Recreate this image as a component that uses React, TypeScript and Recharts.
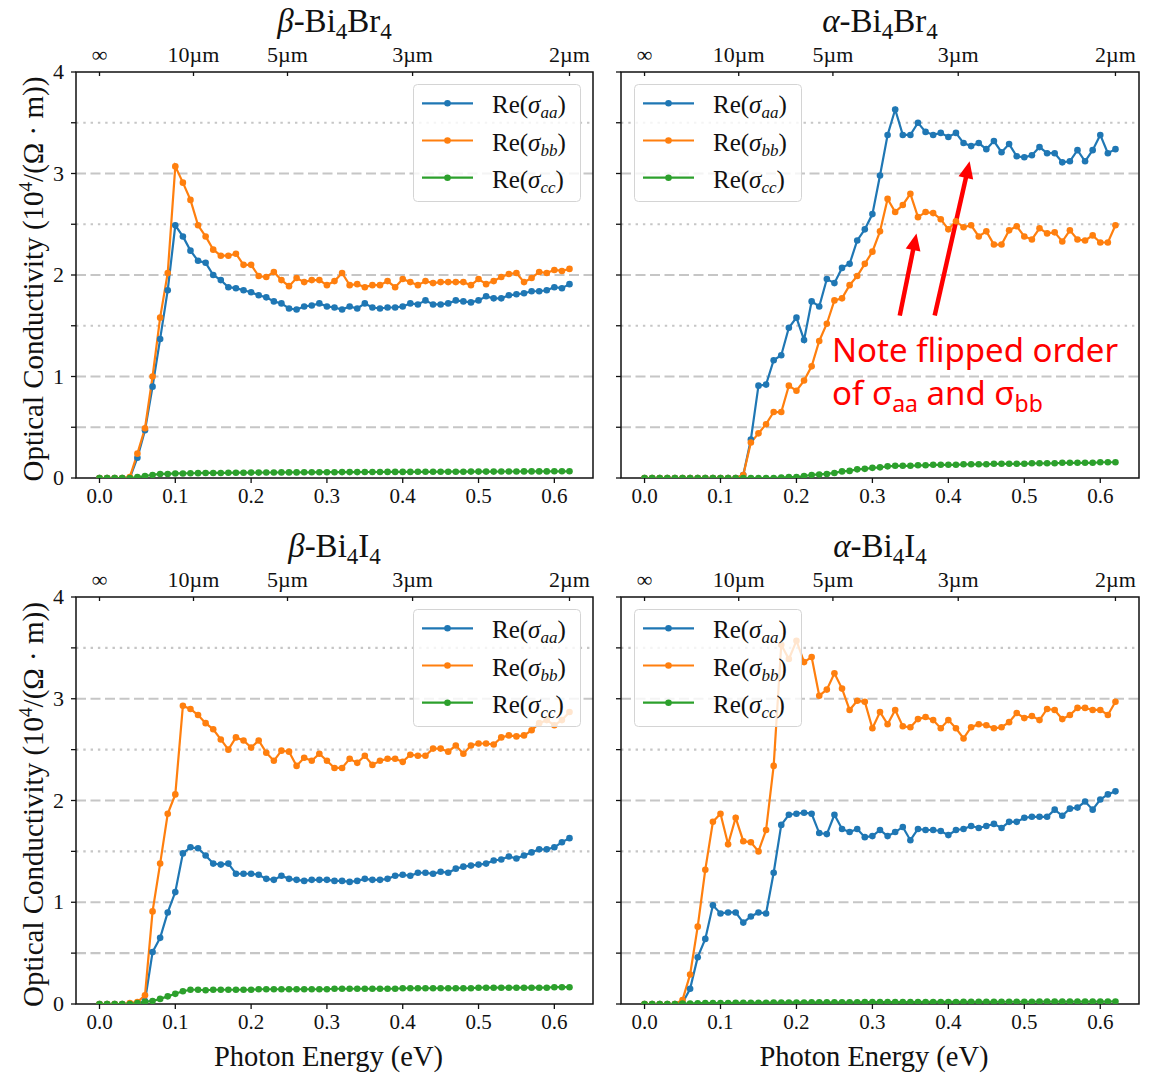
import React from 'react';
import { LineChart, Line, XAxis, YAxis, CartesianGrid, ReferenceLine, ReferenceArea, Legend } from 'recharts';

const SERIF = '"Liberation Serif", "DejaVu Serif", serif';
const SANS = '"Noto Sans", "Open Sans", sans-serif';

// ---------- shared axes ----------
const energies = [0.00,0.01,0.02,0.03,0.04,0.05,0.06,0.07,0.08,0.09,0.10,0.11,0.12,0.13,0.14,0.15,0.16,0.17,0.18,0.19,0.20,0.21,0.22,0.23,0.24,0.25,0.26,0.27,0.28,0.29,0.30,0.31,0.32,0.33,0.34,0.35,0.36,0.37,0.38,0.39,0.40,0.41,0.42,0.43,0.44,0.45,0.46,0.47,0.48,0.49,0.50,0.51,0.52,0.53,0.54,0.55,0.56,0.57,0.58,0.59,0.60,0.61,0.62];
const xDomain = [-0.031, 0.651];
const bottomTicks = [0, 0.1, 0.2, 0.3, 0.4, 0.5, 0.6];
const topTickEnergies = [0, 0.124, 0.248, 0.413, 0.62];
const topTickLabels = ['∞', '10µm', '5µm', '3µm', '2µm'];
const yTicks = [0, 0.5, 1, 1.5, 2, 2.5, 3, 3.5, 4];
const dashedLevels = [0.5, 1, 2, 3];
const dottedLevels = [1.5, 2.5, 3.5];
const seriesKeys = ['aa', 'bb', 'cc'];
const seriesColors = ['#1f77b4', '#ff7f0e', '#2ca02c'];

// ---------- β-Bi4Br4 ----------
const betaBrAA = [0,0,0,0,0, 0.20,0.47,0.90,1.37,1.85, 2.49,2.38,2.24,2.14,2.12, 2.00,1.95,1.88,1.87,1.85, 1.83,1.80,1.78,1.74,1.72, 1.67,1.66,1.69,1.70,1.72, 1.69,1.68,1.66,1.69,1.67, 1.72,1.68,1.67,1.68,1.68, 1.69,1.72,1.71,1.75,1.71, 1.71,1.72,1.75,1.74,1.73, 1.75,1.79,1.77,1.77,1.80, 1.81,1.82,1.84,1.84,1.85, 1.88,1.87,1.91];
const betaBrBB = [0,0,0,0,0.01, 0.24,0.49,1.00,1.58,2.02, 3.07,2.91,2.74,2.49,2.38, 2.25,2.19,2.19,2.21,2.10, 2.10,1.99,1.98,2.03,1.95, 1.89,1.97,1.93,1.95,1.95, 1.90,1.94,2.02,1.90,1.91, 1.88,1.90,1.90,1.94,1.88, 1.96,1.93,1.90,1.94,1.92, 1.93,1.93,1.93,1.93,1.90, 1.96,1.91,1.94,1.98,2.01, 2.02,1.93,1.97,2.03,2.02, 2.05,2.04,2.06];
const betaBrCC = [0,0,0,0,0, 0.01,0.02,0.03,0.04,0.04, 0.045,0.045,0.047,0.048,0.05, 0.05,0.05,0.051,0.052,0.052, 0.053,0.053,0.054,0.054,0.055, 0.055,0.055,0.056,0.056,0.057, 0.057,0.057,0.058,0.058,0.058, 0.059,0.059,0.059,0.06,0.06, 0.06,0.06,0.061,0.061,0.061, 0.062,0.062,0.062,0.062,0.063, 0.063,0.063,0.063,0.064,0.064, 0.064,0.065,0.065,0.065,0.065, 0.066,0.066,0.066];

// ---------- α-Bi4Br4 ----------
const alphaBrAA = [0,0,0,0,0, 0,0,0,0,0, 0,0,0,0.03,0.38, 0.91,0.92,1.16,1.21,1.48, 1.58,1.36,1.74,1.69,1.96, 1.92,2.07,2.11,2.34,2.45, 2.60,2.98,3.38,3.63,3.38, 3.38,3.50,3.41,3.38,3.40, 3.36,3.40,3.30,3.27,3.30, 3.24,3.32,3.21,3.29,3.17, 3.16,3.18,3.26,3.20,3.20, 3.11,3.12,3.23,3.12,3.23, 3.38,3.20,3.24];
const alphaBrBB = [0,0,0,0,0, 0,0,0,0,0, 0,0,0,0.03,0.35, 0.44,0.53,0.65,0.65,0.91, 0.86,0.96,1.10,1.35,1.52, 1.75,1.77,1.90,1.99,2.11, 2.23,2.43,2.75,2.62,2.69, 2.80,2.57,2.62,2.61,2.55, 2.45,2.53,2.47,2.49,2.38, 2.43,2.30,2.30,2.44,2.48, 2.38,2.35,2.46,2.41,2.42, 2.33,2.44,2.35,2.34,2.39, 2.32,2.32,2.49];
const alphaBrCC = [0,0,0,0,0, 0,0,0,0,0, 0,0,0,0,0, 0,0,0,0.005,0.01, 0.01,0.02,0.03,0.035,0.04, 0.05,0.065,0.07,0.085,0.09, 0.10,0.105,0.115,0.12,0.12, 0.12,0.125,0.125,0.13,0.13, 0.13,0.13,0.135,0.135,0.135, 0.135,0.14,0.14,0.14,0.14, 0.14,0.145,0.145,0.145,0.145, 0.15,0.15,0.15,0.15,0.15, 0.155,0.155,0.155];

// ---------- β-Bi4I4 ----------
const betaIAA = [0,0,0,0,0, 0,0.03,0.51,0.65,0.90, 1.10,1.48,1.54,1.53,1.46, 1.38,1.37,1.38,1.28,1.28, 1.28,1.27,1.23,1.22,1.26, 1.23,1.22,1.21,1.22,1.22, 1.22,1.21,1.21,1.20,1.21, 1.23,1.22,1.22,1.23,1.26, 1.27,1.26,1.29,1.29,1.28, 1.30,1.29,1.33,1.35,1.36, 1.37,1.38,1.41,1.42,1.45, 1.43,1.46,1.49,1.52,1.52, 1.54,1.59,1.63];
const betaIBB = [0,0,0,0,0.01, 0.02,0.085,0.91,1.38,1.87, 2.06,2.93,2.90,2.84,2.76, 2.70,2.60,2.50,2.62,2.59, 2.52,2.59,2.47,2.39,2.49, 2.48,2.34,2.42,2.39,2.46, 2.39,2.32,2.32,2.41,2.37, 2.44,2.35,2.39,2.41,2.41, 2.38,2.45,2.44,2.44,2.51, 2.51,2.48,2.54,2.46,2.54, 2.56,2.56,2.55,2.62,2.64, 2.63,2.64,2.69,2.76,2.79, 2.74,2.79,2.87];
const betaICC = [0,0,0,0,0, 0.01,0.02,0.03,0.05,0.075, 0.10,0.125,0.14,0.14,0.135, 0.14,0.14,0.14,0.14,0.14, 0.14,0.145,0.145,0.145,0.145, 0.145,0.145,0.145,0.145,0.145, 0.145,0.15,0.15,0.15,0.15, 0.15,0.15,0.15,0.15,0.15, 0.155,0.155,0.155,0.155,0.155, 0.155,0.155,0.155,0.155,0.155, 0.16,0.16,0.16,0.16,0.16, 0.16,0.16,0.16,0.16,0.16, 0.165,0.165,0.165];

// ---------- α-Bi4I4 ----------
const alphaIAA = [0,0,0,0,0, 0.01,0.15,0.46,0.64,0.97, 0.89,0.90,0.90,0.80,0.86, 0.90,0.89,1.29,1.76,1.86, 1.87,1.88,1.87,1.68,1.67, 1.86,1.72,1.69,1.72,1.64, 1.65,1.71,1.65,1.69,1.74, 1.61,1.72,1.71,1.71,1.70, 1.66,1.71,1.72,1.75,1.73, 1.75,1.77,1.73,1.79,1.79, 1.83,1.84,1.84,1.84,1.91, 1.85,1.92,1.93,1.99,1.91, 2.01,2.06,2.09];
const alphaIBB = [0,0,0,0,0, 0.04,0.29,0.76,1.32,1.79, 1.87,1.57,1.83,1.60,1.59, 1.50,1.71,2.34,3.53,3.39, 3.57,3.36,3.41,3.03,3.09, 3.25,3.10,2.89,2.98,2.97, 2.71,2.87,2.75,2.89,2.73, 2.72,2.80,2.82,2.79,2.71, 2.79,2.71,2.61,2.72,2.75, 2.74,2.71,2.72,2.77,2.86, 2.81,2.83,2.79,2.90,2.89, 2.80,2.84,2.91,2.91,2.89, 2.89,2.84,2.97];
const alphaICC = [0,0,0,0,0, 0.005,0.005,0.008,0.01,0.01, 0.01,0.01,0.012,0.012,0.012, 0.013,0.013,0.014,0.014,0.015, 0.015,0.015,0.016,0.016,0.016, 0.017,0.017,0.017,0.017,0.018, 0.018,0.018,0.018,0.019,0.019, 0.019,0.019,0.02,0.02,0.02, 0.02,0.02,0.021,0.021,0.021, 0.021,0.021,0.022,0.022,0.022, 0.022,0.022,0.023,0.023,0.023, 0.023,0.023,0.024,0.024,0.024, 0.024,0.024,0.025];

// ---------- annotation arrows (α-Bi4Br4), data coordinates ----------
const arrowX1 = [0.336, 0.382];
const arrowY1 = [1.60, 1.60];
const arrowX2 = [0.358, 0.428];
const arrowY2 = [2.41, 3.12];

type PanelDef = {
  id: string; greek: string; halide: string;
  left: number; top: number; w: number; h: number;
  aa: number[]; bb: number[]; cc: number[];
  legendRight: boolean; yLabels: boolean; xLabel: boolean; arrows: boolean;
};

const panels: PanelDef[] = [
  { id: 'bBr', greek: 'β', halide: 'Br', left: 76, top: 72, w: 517, h: 406, aa: betaBrAA, bb: betaBrBB, cc: betaBrCC, legendRight: true, yLabels: true, xLabel: false, arrows: false },
  { id: 'aBr', greek: 'α', halide: 'Br', left: 621, top: 72, w: 518, h: 406, aa: alphaBrAA, bb: alphaBrBB, cc: alphaBrCC, legendRight: false, yLabels: false, xLabel: false, arrows: true },
  { id: 'bI', greek: 'β', halide: 'I', left: 76, top: 597, w: 517, h: 407, aa: betaIAA, bb: betaIBB, cc: betaICC, legendRight: true, yLabels: true, xLabel: true, arrows: false },
  { id: 'aI', greek: 'α', halide: 'I', left: 621, top: 597, w: 518, h: 407, aa: alphaIAA, bb: alphaIBB, cc: alphaICC, legendRight: false, yLabels: false, xLabel: true, arrows: false },
];

const TICK_FONT = 21;

const BottomTick = (props: any) => {
  const { x, y, payload } = props;
  return (
    <text x={x} y={y} dy={15} textAnchor="middle" fontFamily={SERIF} style={{ fontFamily: SERIF }} fontSize={TICK_FONT} fill="#111">
      {Number(payload.value).toFixed(1)}
    </text>
  );
};

const TopTick = (props: any) => {
  const { x, y, payload } = props;
  const idx = topTickEnergies.indexOf(payload.value);
  return (
    <text x={x} y={y} textAnchor="middle" fontFamily={SERIF} style={{ fontFamily: SERIF }} fontSize={TICK_FONT + 1} fill="#111">
      {idx >= 0 ? topTickLabels[idx] : ''}
    </text>
  );
};

const makeLeftTick = (show: boolean) => (props: any) => {
  const { x, y, payload } = props;
  const v = Number(payload.value);
  return (
    <text x={x} y={y} dy={7} textAnchor="end" fontFamily={SERIF} style={{ fontFamily: SERIF }} fontSize={TICK_FONT + 1} fill="#111">
      {show && Number.isInteger(v) ? String(v) : ''}
    </text>
  );
};

const ArrowShape = (props: any) => {
  const { x1, y1, x2, y2 } = props;
  const dx = x2 - x1, dy = y2 - y1;
  const len = Math.hypot(dx, dy) || 1;
  const ux = dx / len, uy = dy / len;
  const hl = 17, hw = 7.5;
  const bx = x2 - ux * hl, by = y2 - uy * hl;
  const px = -uy, py = ux;
  return (
    <g>
      <line x1={x1} y1={y1} x2={bx + ux * 2} y2={by + uy * 2} stroke="#ff0000" strokeWidth={4.5} />
      <polygon points={`${x2},${y2} ${bx + px * hw},${by + py * hw} ${bx - px * hw},${by - py * hw}`} fill="#ff0000" />
    </g>
  );
};

const LegendContent = (props: any) => {
  const payload = props.payload || [];
  return (
    <svg width={168} height={118} style={{ display: 'block' }}>
      <rect x={0.5} y={0.5} width={167} height={117} rx={4} ry={4} fill="#ffffff" fillOpacity={0.8} stroke="#d4d4d4" strokeWidth={1} />
      {payload.map((p: any, i: number) => {
        const cy = 19.3 + i * 37.2;
        const sub = String(p.value);
        return (
          <g key={i}>
            <line x1={9} x2={60} y1={cy} y2={cy} stroke={p.color} strokeWidth={2.2} />
            <circle cx={34.5} cy={cy} r={3.3} fill={p.color} />
            <text x={79} y={cy + 10} fontFamily={SERIF} style={{ fontFamily: SERIF }} fontSize={25} fill="#111">
              Re(<tspan fontStyle="italic">σ</tspan>
              <tspan fontStyle="italic" fontSize={17} dy={5}>{sub}</tspan>
              <tspan dy={-5}>)</tspan>
            </text>
          </g>
        );
      })}
    </svg>
  );
};

const M_LEFT = 70, M_TOP = 70, M_RIGHT = 20, M_BOTTOM = 60;

const Panel = ({ p }: { p: PanelDef }) => {
  const rows = energies.map((e, i) => ({ e, aa: p.aa[i], bb: p.bb[i], cc: p.cc[i] }));
  const legendLeft = p.legendRight ? M_LEFT + p.w - 12 - 168 : M_LEFT + 13;
  return (
    <div style={{ position: 'absolute', left: p.left - M_LEFT, top: p.top - M_TOP, fontFamily: SERIF }}>
      <LineChart width={p.w + M_LEFT + M_RIGHT} height={p.h + M_TOP + M_BOTTOM} data={rows}
        style={{ fontFamily: SERIF }}
        margin={{ top: 30, right: M_RIGHT, bottom: 20, left: 10 }}>
        <CartesianGrid vertical={false} horizontalValues={dashedLevels} stroke="#c6c6c6" strokeWidth={2.2} strokeDasharray="10 4.5" />
        <CartesianGrid vertical={false} horizontalValues={dottedLevels} stroke="#c6c6c6" strokeWidth={2.2} strokeDasharray="2.4 4.9" />
        <XAxis dataKey="e" type="number" domain={xDomain} ticks={bottomTicks} interval={0} allowDataOverflow
          height={40} axisLine={false}
          tickLine={{ stroke: '#111', strokeWidth: 1.3 }} tickSize={5} tickMargin={5} tick={BottomTick} />
        <XAxis xAxisId="top" dataKey="e" orientation="top" type="number" domain={xDomain} ticks={topTickEnergies} interval={0} allowDataOverflow
          height={40} axisLine={false}
          tickLine={{ stroke: '#111', strokeWidth: 1.3 }} tickSize={-4} tickMargin={14} tick={TopTick} />
        <YAxis type="number" domain={[0, 4]} ticks={yTicks} interval={0} allowDataOverflow width={60} axisLine={false}
          tickLine={{ stroke: '#111', strokeWidth: 1.3 }} tickSize={5} tickMargin={7} tick={makeLeftTick(p.yLabels)} />
        {seriesKeys.map((k, i) => (
          <Line key={k} dataKey={k} name={k} type="linear" stroke={seriesColors[i]} strokeWidth={2.2}
            dot={{ r: 3.3, fill: seriesColors[i], stroke: 'none' }} activeDot={false} isAnimationActive={false} />
        ))}
        <ReferenceArea x1={xDomain[0]} x2={xDomain[1]} y1={0} y2={4} fill="none" fillOpacity={0} stroke="#111" strokeWidth={1.5} ifOverflow="visible" />
        {p.arrows && arrowX1.map((x, i) => (
          <ReferenceLine key={'ar' + i} segment={[{ x, y: arrowY1[i] }, { x: arrowX2[i], y: arrowY2[i] }]}
            shape={ArrowShape} ifOverflow="visible" />
        ))}
        <Legend layout="vertical" align="center" verticalAlign="middle" content={LegendContent}
          wrapperStyle={{ position: 'absolute', left: legendLeft, top: M_TOP + 12, width: 168, height: 118 }} />
      </LineChart>
    </div>
  );
};

const Title = ({ p }: { p: PanelDef }) => (
  <text x={p.left + p.w / 2} y={p.top - 40} textAnchor="middle" fontFamily={SERIF} style={{ fontFamily: SERIF }} fontSize={33} fill="#111">
    <tspan fontStyle="italic">{p.greek}</tspan>-Bi
    <tspan fontSize={23} dy={7}>4</tspan>
    <tspan dy={-7}>{p.halide}</tspan>
    <tspan fontSize={23} dy={7}>4</tspan>
  </text>
);

export default function App() {
  return (
    <div style={{ position: 'absolute', left: 0, top: 0, width: 1149, height: 1073, background: '#fff', fontFamily: SERIF }}>
      {panels.map(p => <Panel key={p.id} p={p} />)}
      <svg width={1149} height={1073} style={{ position: 'absolute', left: 0, top: 0, pointerEvents: 'none', fontFamily: SERIF }}>
        {panels.map(p => <Title key={'t' + p.id} p={p} />)}
        {panels.filter(p => p.yLabels).map(p => (
          <text key={'yl' + p.id} transform={`translate(43, ${p.top + p.h / 2 + 4}) rotate(-90)`} textAnchor="middle"
            fontFamily={SERIF} style={{ fontFamily: SERIF }} fontSize={29} fill="#111">
            Optical Conductivity (10<tspan fontSize={19} dy={-11}>4</tspan><tspan dy={11}>/(Ω · m))</tspan>
          </text>
        ))}
        {panels.filter(p => p.xLabel).map(p => (
          <text key={'xl' + p.id} x={p.left + p.w / 2 - 6} y={1066} textAnchor="middle" fontFamily={SERIF} style={{ fontFamily: SERIF }} fontSize={28.5} fill="#111">
            Photon Energy (eV)
          </text>
        ))}
        <text x={832} y={362} fontFamily={SANS} style={{ fontFamily: SANS }} fontSize={33} fill="#ff0000">Note flipped order</text>
        <text x={832} y={405} fontFamily={SANS} style={{ fontFamily: SANS }} fontSize={33} fill="#ff0000">
          of σ<tspan fontSize={23} dy={7}>aa</tspan><tspan dy={-7}> and σ</tspan><tspan fontSize={23} dy={7}>bb</tspan>
        </text>
      </svg>
    </div>
  );
}
